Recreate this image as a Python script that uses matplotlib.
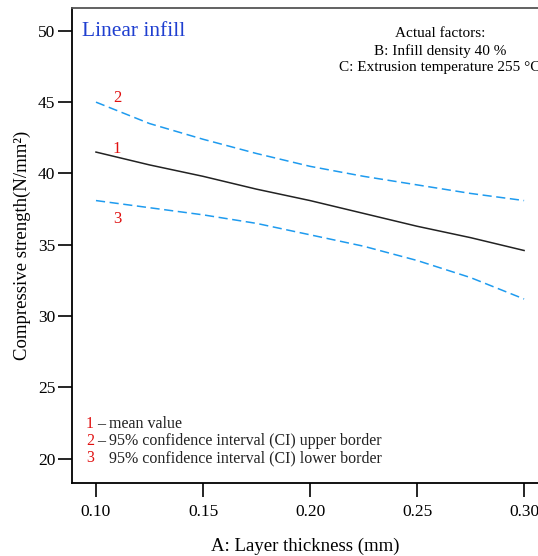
import numpy as np
import matplotlib.pyplot as plt

plt.rcParams['font.family'] = ['Liberation Serif', 'DejaVu Serif']

# layer thickness (mm)
thickness = [0.10, 0.125, 0.15, 0.175, 0.20, 0.225, 0.25, 0.275, 0.30]
# compressive strength, N/mm2
mean_val = [41.5, 40.6, 39.8, 38.9, 38.1, 37.2, 36.3, 35.5, 34.6]
ci_upper = [45.0, 43.5, 42.4, 41.4, 40.5, 39.8, 39.2, 38.6, 38.1]
ci_lower = [38.1, 37.6, 37.1, 36.5, 35.7, 34.9, 33.9, 32.7, 31.2]

yticks = [20, 25, 30, 35, 40, 45, 50]
xticks = [0.10, 0.15, 0.20, 0.25, 0.30]

blue = '#1e9bef'
red = '#e01010'

fig = plt.figure(figsize=(5.38, 5.56), dpi=100)
ax = fig.add_axes([72/538, 73/556, 466/538, 475/556])

ax.plot(thickness, mean_val, color='#222222', lw=1.1)
ax.plot(thickness, ci_upper, color=blue, lw=1.1, dashes=(6, 3))
ax.plot(thickness, ci_lower, color=blue, lw=1.1, dashes=(6, 3))

ax.set_xlim(0.0888, 0.3065)
ax.set_ylim(18.3, 51.6)
ax.set_xticks(xticks)
ax.set_xticklabels(['%.2f' % t for t in xticks])
ax.set_yticks(yticks)
ax.tick_params(direction='out', length=10, width=1.2, labelsize=12.5)
ax.tick_params(axis='y', pad=2)
ax.tick_params(axis='x', pad=5)
ax.spines['right'].set_visible(False)
for s in ['left', 'bottom', 'top']:
    ax.spines[s].set_linewidth(1.3)
ax.spines['top'].set_color('#555555')

ax.set_xlabel('A: Layer thickness (mm)', fontsize=13.5, labelpad=13)
ax.set_ylabel('Compressive strength(N/mm²)', fontsize=13.5, labelpad=5)

ax.text(0.022, 0.97, 'Linear infill', transform=ax.transAxes, color='#1f3fd0',
        fontsize=15.5, va='top', ha='left')
ax.text(0.79, 0.96, 'Actual factors:\nB: Infill density 40 %\nC: Extrusion temperature 255 °C',
        transform=ax.transAxes, fontsize=11, ha='center', va='top', linespacing=1.35,
        clip_on=False)

# curve numbers
ax.text(thickness[0] + 0.0098, ci_upper[0] + 0.3, '2', color=red, fontsize=12,
        ha='center', va='center')
ax.text(thickness[0] + 0.0098, mean_val[0] + 0.25, '1', color=red, fontsize=12,
        ha='center', va='center')
ax.text(thickness[0] + 0.0098, ci_lower[0] - 1.3, '3', color=red, fontsize=12,
        ha='center', va='center')

legend = [('1', '– mean value'),
          ('2', '– 95% confidence interval (CI) upper border'),
          ('3', '   95% confidence interval (CI) lower border')]
for i, (num, txt) in enumerate(legend):
    yy = 0.125 - i * 0.0365
    ax.text(0.030, yy, num, transform=ax.transAxes, color=red, fontsize=11.5, va='center')
    ax.text(0.054, yy, txt, transform=ax.transAxes, color='#222222', fontsize=11.5,
            va='center')

fig.savefig('out.png', dpi=100)
